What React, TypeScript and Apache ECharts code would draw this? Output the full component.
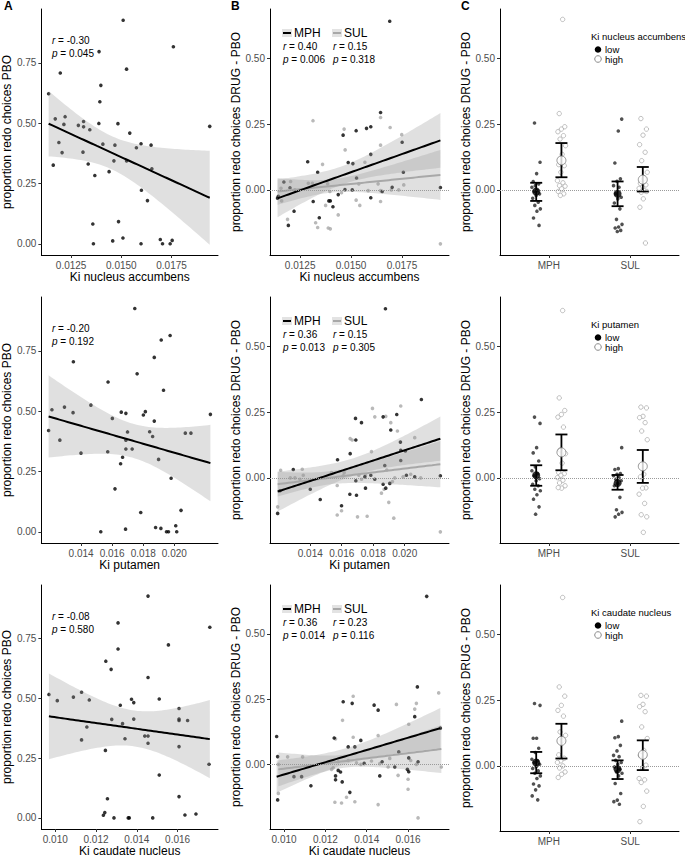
import React, { useEffect, useRef } from "react";
import * as echarts from "echarts";

const FONT = '"Liberation Sans", Arial, Helvetica, sans-serif';

// ---------- Panel A: proportion redo choices PBO vs Ki ----------
const accA_ki = [0.01509,0.01759,0.01389,0.01526,0.01196,0.01398,0.01138,0.01393,0.01171,0.0122,0.01214,0.01286,0.01312,0.01312,0.01343,0.01388,0.01483,0.01542,0.0194,0.01408,0.01468,0.01598,0.01648,0.01575,0.01189,0.01205,0.01309,0.01161,0.01335,0.01463,0.01526,0.01652,0.01439,0.01368,0.016,0.0163,0.01358,0.01486,0.01457,0.01508,0.01361,0.01598,0.01694,0.01705,0.01743,0.01753];
const accA_pbo = [0.927,0.817,0.797,0.724,0.708,0.657,0.622,0.589,0.518,0.527,0.495,0.491,0.507,0.485,0.473,0.499,0.498,0.459,0.487,0.413,0.409,0.415,0.409,0.398,0.42,0.378,0.38,0.326,0.331,0.344,0.344,0.311,0.299,0.283,0.222,0.179,0.082,0.092,0.012,0.024,0,0,0.018,0,0,0.014];

const putA_ki = [0.017457,0.01973,0.019157,0.01871,0.013505,0.017606,0.015736,0.019305,0.014631,0.012124,0.012931,0.013484,0.016586,0.016883,0.018137,0.018009,0.022322,0.01871,0.016012,0.011911,0.016989,0.018413,0.018604,0.020708,0.021069,0.012634,0.016883,0.013994,0.015715,0.016883,0.017287,0.016671,0.018987,0.016543,0.019794,0.016182,0.017839,0.020432,0.016862,0.018795,0.019136,0.020092,0.015268,0.019497,0.019624,0.020155];
const putA_pbo = [0.926,0.814,0.795,0.723,0.705,0.655,0.621,0.587,0.525,0.506,0.517,0.494,0.496,0.491,0.498,0.484,0.487,0.459,0.47,0.42,0.414,0.415,0.395,0.409,0.409,0.38,0.38,0.326,0.332,0.343,0.343,0.309,0.3,0.282,0.222,0.178,0.08,0.089,0.011,0.018,0.014,0.025,0,0,0,0];

const cauA_ki = [0.00969,0.0101,0.01089,0.01129,0.01167,0.01129,0.01155,0.01248,0.01274,0.01308,0.01308,0.01246,0.01277,0.01319,0.0133,0.01342,0.01374,0.01385,0.01385,0.01439,0.01455,0.01455,0.01455,0.01455,0.0151,0.0151,0.01555,0.01607,0.01607,0.01607,0.01649,0.01607,0.01607,0.01758,0.01754,0.01256,0.01236,0.01243,0.01288,0.01358,0.01363,0.01478,0.01636,0.0169];
const cauA_pbo = [0.516,0.49,0.505,0.525,0.493,0.326,0.38,0.655,0.621,0.815,0.706,0.282,0.412,0.471,0.394,0.331,0.496,0.482,0.413,0.342,0.342,0.312,0.927,0.587,0.497,0.179,0.723,0.457,0.413,0.407,0.407,0.298,0.089,0.797,0.224,0.08,0.011,0.022,0,0,0,0,0.012,0.016];

// ---------- Panel B: DRUG - PBO vs Ki ----------
const accB_mph_ki = [0.0169,0.01645,0.01597,0.01576,0.01525,0.01461,0.01597,0.01751,0.01287,0.01486,0.01509,0.01336,0.01757,0.01527,0.01702,0.01939,0.0117,0.012,0.01143,0.01139,0.01506,0.0147,0.01437,0.01314,0.01391,0.01398,0.01411,0.01597,0.01344,0.0122,0.01192,0.01653];
const accB_mph_d = [0.641,0.294,0.24,0.234,0.225,0.208,0.135,0.181,0.107,0.104,0.1,0.067,0.067,0.045,0.01,0.009,0.03,0.008,-0.024,-0.032,0,0.001,-0.018,-0.044,-0.042,-0.042,-0.064,-0.03,-0.106,-0.081,-0.135,-0.006];
const accB_sul_ki = [0.01313,0.01692,0.01466,0.01645,0.01749,0.01471,0.01645,0.01568,0.0136,0.0129,0.0131,0.01203,0.01156,0.01224,0.01385,0.01396,0.01453,0.01538,0.01645,0.01645,0.01633,0.01698,0.01759,0.01734,0.01525,0.01543,0.01375,0.01326,0.01336,0.01388,0.01398,0.01437,0.01188,0.01159,0.01939,0.01584,0.01139];
const accB_sul_d = [0.263,0.237,0.231,0.275,0.21,0.152,0.17,0.105,0.097,0.025,0.025,0.032,0.006,0,0.023,-0.006,-0.011,0.023,-0.003,-0.044,0.023,0,0.019,0,-0.039,-0.059,-0.059,-0.125,-0.143,-0.145,-0.148,-0.095,-0.112,-0.042,-0.205,-0.003,-0.028];

const putB_mph_ki = [0.018775,0.021057,0.016874,0.019494,0.018628,0.017254,0.019114,0.019726,0.016895,0.015733,0.016536,0.018733,0.019747,0.020043,0.019747,0.012923,0.022262,0.020107,0.020634,0.017465,0.017846,0.018099,0.018628,0.018797,0.01905,0.017508,0.014001,0.016515,0.016937,0.016895,0.014634,0.015987,0.01193,0.012078];
const putB_mph_d = [0.643,0.298,0.226,0.241,0.232,0.21,0.182,0.136,0.144,0.069,0.092,0.047,0.105,0.102,0.066,0.032,0.008,0.01,0.004,0.004,0.01,-0.005,-0.024,-0.039,-0.021,-0.039,-0.043,-0.062,-0.066,-0.011,-0.082,-0.106,-0.135,-0.049];
const putB_sul_ki = [0.017951,0.018099,0.018797,0.019747,0.019114,0.019536,0.020634,0.017888,0.016663,0.016536,0.01886,0.01212,0.013493,0.013557,0.012733,0.013029,0.015353,0.016155,0.017085,0.017254,0.019367,0.019895,0.020381,0.021015,0.015712,0.018691,0.018522,0.01922,0.016092,0.017508,0.018987,0.015712,0.015987,0.017001,0.017613,0.019304,0.022262,0.01193,0.013346];
const putB_sul_d = [0.264,0.232,0.234,0.273,0.21,0.178,0.153,0.1,0.144,0.149,0.03,0.029,0.033,0.01,0,0,0.02,0.02,0.01,-0.005,0,0.004,0.014,0,-0.029,-0.043,-0.058,-0.014,0.008,0.01,-0.093,-0.141,-0.125,-0.148,-0.146,-0.153,-0.205,-0.11,-0.005];

const cauB_mph_ki = [0.016902,0.016451,0.012861,0.013296,0.014358,0.014552,0.016323,0.017562,0.009641,0.012426,0.013714,0.013103,0.013425,0.01555,0.009689,0.016033,0.016484,0.014745,0.013875,0.012619,0.012732,0.012491,0.014632,0.015968,0.016033,0.010478,0.010849,0.012491,0.012813,0.011299,0.013183,0.009689,0.015357];
const cauB_mph_d = [0.644,0.297,0.24,0.234,0.227,0.208,0.183,0.139,0.107,0.101,0.092,0.067,0.067,0.048,0.03,0.025,0.01,0.01,0.004,-0.023,-0.029,-0.044,-0.044,-0.019,-0.028,-0.047,-0.047,-0.059,-0.067,-0.082,-0.107,-0.136,-0.01];
const cauB_sul_ki = [0.017482,0.013344,0.016403,0.015437,0.016323,0.012829,0.016033,0.014552,0.013344,0.012491,0.010172,0.010897,0.009722,0.012619,0.013103,0.013714,0.01423,0.014632,0.015115,0.016129,0.016403,0.015037,0.012378,0.012298,0.015518,0.016001,0.016001,0.013505,0.017611,0.009722,0.013022,0.012459,0.012781,0.013425,0.014552,0.016484];
const cauB_sul_d = [0.274,0.261,0.234,0.23,0.212,0.169,0.154,0.111,0.104,0.098,0.029,0.029,0,0.01,0.015,0,0.013,0.003,0.023,0.015,0,-0.01,-0.013,-0.019,-0.042,-0.057,-0.095,0.006,-0.01,-0.111,-0.126,-0.145,-0.148,-0.143,-0.154,-0.205];

// fitted lines: value at min Ki, value at max Ki
const accB_fitMph = [-0.032, 0.188];
const accB_fitSul = [-0.006, 0.057];
const putB_fitMph = [-0.052, 0.149];
const putB_fitSul = [-0.024, 0.052];
const cauB_fitMph = [-0.047, 0.139];
const cauB_fitSul = [-0.019, 0.059];
// 95% CI half-widths: at min Ki, narrowest, at max Ki
const accB_ciMph = [0.072, 0.035, 0.104];
const accB_ciSul = [0.051, 0.025, 0.095];
const putB_ciMph = [0.076, 0.033, 0.084];
const putB_ciSul = [0.047, 0.025, 0.088];
const cauB_ciMph = [0.062, 0.03, 0.077];
const cauB_ciSul = [0.065, 0.025, 0.092];

// ---------- Panel C: DRUG - PBO by low/high Ki ----------
const accC_mphLow = [0.254,0.105,0.062,0.032,0.023,0.016,0.01,-0.003,-0.006,-0.015,-0.021,-0.032,-0.047,-0.059,-0.072,-0.081,-0.107,-0.135];
const accC_mphHigh = [0.648,0.29,0.24,0.231,0.221,0.206,0.193,0.168,0.135,0.096,0.092,0.067,0.035,0.027,0.016,0.014,0.004,-0.006,-0.015,-0.021];
const accC_sulLow = [0.269,0.224,0.102,0.042,0.033,0.016,0.01,-0.015,-0.028,-0.034,-0.05,-0.072,-0.112,-0.131,-0.141,-0.145,-0.154,-0.158];
const accC_sulHigh = [0.271,0.231,0.208,0.172,0.143,0.111,0.067,0.042,0.025,0.019,0.01,0.006,-0.003,-0.009,-0.006,-0.034,-0.066,-0.202];
const accC_mean = [-0.006, 0.112, -0.015, 0.039];
const accC_lo = [-0.042, 0.048, -0.062, -0.006];
const accC_hi = [0.027, 0.178, 0.032, 0.087];

const putC_mphLow = [0.231,0.207,0.115,0.095,0.064,0.042,0.027,0.016,0.008,-0.003,-0.011,-0.024,-0.03,-0.043,-0.049,-0.064,-0.081,-0.11,-0.138];
const putC_mphHigh = [0.636,0.304,0.256,0.241,0.231,0.193,0.106,0.092,0.056,0.02,0.016,0.01,0.001,-0.009,-0.019,-0.03,-0.039,-0.037];
const putC_sulLow = [0.115,0.035,0.032,0.016,0.014,0.008,0.001,-0.005,-0.011,-0.021,-0.03,-0.074,-0.121,-0.131,-0.138,-0.148];
const putC_sulHigh = [0.269,0.266,0.234,0.229,0.21,0.178,0.145,0.014,0.004,-0.038,-0.039,-0.062,-0.097,-0.14,-0.148,-0.207];
const putC_mean = [0.01, 0.097, -0.02, 0.044];
const putC_lo = [-0.03, 0.029, -0.045, -0.019];
const putC_hi = [0.048, 0.165, 0.011, 0.106];

const cauC_mphLow = [0.237,0.23,0.105,0.105,0.067,0.051,0.025,0.019,0.013,0.006,-0.003,-0.01,-0.019,-0.028,-0.038,-0.048,-0.069,-0.076,-0.091,-0.114,-0.129];
const cauC_mphHigh = [0.64,0.3,0.265,0.23,0.211,0.189,0.129,0.116,0.096,0.042,0.029,0.019,0.013,0,-0.008,-0.023,-0.032,-0.044];
const cauC_sulLow = [0.17,0.111,0.107,0.078,0.057,0.04,0.035,0.021,0.013,0.006,-0.004,-0.013,-0.023,-0.028,-0.038,-0.067,-0.105,-0.13,-0.136,-0.146];
const cauC_sulHigh = [0.268,0.265,0.234,0.225,0.206,0.148,0.104,0.059,0.04,0.003,-0.008,-0.048,-0.053,-0.063,-0.096,-0.154,-0.212];
const cauC_mean = [0.013, 0.095, -0.013, 0.042];
const cauC_lo = [-0.028, 0.028, -0.05, -0.016];
const cauC_hi = [0.053, 0.16, 0.021, 0.097];

// ---------- labels / ticks ----------
const regionNames = ["Ki nucleus accumbens", "Ki putamen", "Ki caudate nucleus"];
const xTicks = [[0.0125, 0.015, 0.0175], [0.014, 0.016, 0.018, 0.02], [0.01, 0.012, 0.014, 0.016]];
const xDecimals = [4, 3, 3];
const xRanges = [[0.011018, 0.019812], [0.011444, 0.022811], [0.009319, 0.017981]];
const yTicksA = [0, 0.25, 0.5, 0.75];
const yTicksB = [0, 0.25, 0.5];
const yRangeA = [-0.0465, 0.9735];
const yRangeB = [-0.2475, 0.6875];
const drugs = ["MPH", "SUL"];
const statsA = [["-0.30", "0.045"], ["-0.20", "0.192"], ["-0.08", "0.580"]];
const statsB = [
  [["0.40", "0.006"], ["0.15", "0.318"]],
  [["0.36", "0.013"], ["0.15", "0.305"]],
  [["0.36", "0.014"], ["0.23", "0.116"]],
];

const rowsA = [[accA_ki, accA_pbo], [putA_ki, putA_pbo], [cauA_ki, cauA_pbo]];
const rowsB = [
  [accB_mph_ki, accB_mph_d, accB_sul_ki, accB_sul_d],
  [putB_mph_ki, putB_mph_d, putB_sul_ki, putB_sul_d],
  [cauB_mph_ki, cauB_mph_d, cauB_sul_ki, cauB_sul_d],
];
const fitsB = [
  [accB_fitMph, accB_ciMph, accB_fitSul, accB_ciSul],
  [putB_fitMph, putB_ciMph, putB_fitSul, putB_ciSul],
  [cauB_fitMph, cauB_ciMph, cauB_fitSul, cauB_ciSul],
];
const rowsC = [
  [accC_mphLow, accC_mphHigh, accC_sulLow, accC_sulHigh, accC_mean, accC_lo, accC_hi],
  [putC_mphLow, putC_mphHigh, putC_sulLow, putC_sulHigh, putC_mean, putC_lo, putC_hi],
  [cauC_mphLow, cauC_mphHigh, cauC_sulLow, cauC_sulHigh, cauC_mean, cauC_lo, cauC_hi],
];

// ---------- layout ----------
const ROW_TOP = [9, 297, 585];
const COL_LEFT = [40, 270, 500];
const COL_W = [178, 179, 179];
const PANEL_H = 246;
const DODGE = 0.155;

// ordinary least squares fit with 95% confidence band (as geom_smooth(method = "lm"))
function lmBand(xs: number[], ys: number[]) {
  const n = xs.length;
  const xbar = xs.reduce((s, v) => s + v, 0) / n;
  const ybar = ys.reduce((s, v) => s + v, 0) / n;
  let sxx = 0, sxy = 0;
  for (let i = 0; i < n; i++) {
    sxx += (xs[i] - xbar) ** 2;
    sxy += (xs[i] - xbar) * (ys[i] - ybar);
  }
  const b = sxy / sxx;
  const a = ybar - b * xbar;
  let sse = 0;
  for (let i = 0; i < n; i++) sse += (ys[i] - a - b * xs[i]) ** 2;
  const df = n - 2;
  const s = Math.sqrt(sse / df);
  const t = 1.96 + 2.4 / df;
  const lo = Math.min(...xs), hi = Math.max(...xs);
  const out: number[][] = [];
  for (let k = 0; k <= 60; k++) {
    const x = lo + ((hi - lo) * k) / 60;
    const f = a + b * x;
    const se = s * Math.sqrt(1 / n + (x - xbar) ** 2 / sxx);
    out.push([x, f, f - t * se, f + t * se]);
  }
  return out;
}

// regression line + hyperbolic CI from values
function readBand(xs: number[], ends: number[], hw: number[]) {
  const x0 = Math.min(...xs), x1 = Math.max(...xs);
  const [hL, hm, hR] = hw;
  const q = Math.sqrt((hL * hL - hm * hm) / (hR * hR - hm * hm));
  const xc = (x0 + q * x1) / (1 + q);
  const k = (hL * hL - hm * hm) / ((xc - x0) ** 2);
  const out: number[][] = [];
  for (let j = 0; j <= 60; j++) {
    const x = x0 + ((x1 - x0) * j) / 60;
    const f = ends[0] + ((ends[1] - ends[0]) * (x - x0)) / (x1 - x0);
    const h = Math.sqrt(hm * hm + k * (x - xc) ** 2);
    out.push([x, f, f - h, f + h]);
  }
  return out;
}

const jit = (i: number) => ((((i * 0.6180339887 + 0.31) % 1) - 0.5) * 0.11);

function bandSeries(idx: number, pts: number[][], fill: string, z: number) {
  return {
    type: "custom",
    xAxisIndex: idx,
    yAxisIndex: idx,
    z,
    silent: true,
    data: [[pts[0][0], pts[0][1]]],
    renderItem: (_p: any, api: any) => {
      const up = pts.map((p) => api.coord([p[0], p[3]]));
      const dn = pts.map((p) => api.coord([p[0], p[2]])).reverse();
      return { type: "polygon", shape: { points: up.concat(dn) }, style: { fill } };
    },
  };
}

function lineSeries(idx: number, pts: number[][], color: string, z: number) {
  return {
    type: "line",
    xAxisIndex: idx,
    yAxisIndex: idx,
    z,
    silent: true,
    showSymbol: false,
    data: pts.map((p) => [p[0], p[1]]),
    lineStyle: { color, width: 2 },
  };
}

const zeroLine = {
  silent: true,
  symbol: "none",
  label: { show: false },
  lineStyle: { type: "dotted", color: "#9a9a9a", width: 1 },
  data: [{ yAxis: 0 }],
};

function axisCommon(ticks: number[], fmt: (v: number) => string) {
  return {
    axisLine: { show: true, onZero: false, lineStyle: { color: "#000", width: 1 } },
    axisTick: { show: true, length: 3, customValues: ticks, lineStyle: { color: "#333", width: 1 } },
    axisLabel: { customValues: ticks, formatter: fmt, color: "#4D4D4D", fontSize: 10, fontFamily: FONT, margin: 5 },
    splitLine: { show: false },
    nameLocation: "middle",
    nameTextStyle: { color: "#000", fontSize: 12, fontFamily: FONT },
  };
}

function buildOption() {
  const grid: any[] = [];
  const xAxis: any[] = [];
  const yAxis: any[] = [];
  const series: any[] = [];
  const graphic: any[] = [];

  for (let r = 0; r < 3; r++) {
    for (let c = 0; c < 3; c++) {
      const idx = r * 3 + c;
      grid.push({ left: COL_LEFT[c], top: ROW_TOP[r], width: COL_W[c], height: PANEL_H, containLabel: false });
      if (c < 2) {
        xAxis.push({
          type: "value", gridIndex: idx, min: xRanges[r][0], max: xRanges[r][1],
          ...axisCommon(xTicks[r], (v: number) => v.toFixed(xDecimals[r])),
          name: regionNames[r], nameGap: 16,
        });
      } else {
        xAxis.push({
          type: "value", gridIndex: idx, min: 0.4, max: 2.6,
          ...axisCommon([1, 2], (v: number) => drugs[Math.round(v) - 1]),
        });
      }
      const yr = c === 0 ? yRangeA : yRangeB;
      yAxis.push({
        type: "value", gridIndex: idx, min: yr[0], max: yr[1],
        ...axisCommon(c === 0 ? yTicksA : yTicksB, (v: number) => v.toFixed(2)),
        name: c === 0 ? "proportion redo choices PBO" : "proportion redo choices DRUG - PBO",
        nameGap: 27,
      });
    }

    // ---- A ----
    const ia = r * 3;
    const [ax, ay] = rowsA[r];
    series.push({
      type: "scatter", xAxisIndex: ia, yAxisIndex: ia, z: 2, silent: true,
      symbolSize: 3.6, itemStyle: { color: "#000" },
      data: ax.map((x, i) => [x, ay[i]]),
    });
    const fa = lmBand(ax, ay);
    series.push(bandSeries(ia, fa, "rgba(153,153,153,0.3)", 3));
    series.push(lineSeries(ia, fa, "#000", 4));

    // ---- B ----
    const ib = r * 3 + 1;
    const [mx, my, sx, sy] = rowsB[r];
    const [fitM, ciM, fitS, ciS] = fitsB[r];
    series.push({
      type: "scatter", xAxisIndex: ib, yAxisIndex: ib, z: 2, silent: true,
      symbolSize: 3.6, itemStyle: { color: "#A8A8A8" },
      data: sx.map((x, i) => [x, sy[i]]),
      markLine: zeroLine,
    });
    series.push({
      type: "scatter", xAxisIndex: ib, yAxisIndex: ib, z: 2, silent: true,
      symbolSize: 3.6, itemStyle: { color: "#000" },
      data: mx.map((x, i) => [x, my[i]]),
    });
    const fs = readBand(sx, fitS, ciS);
    const fm = readBand(mx, fitM, ciM);
    series.push(bandSeries(ib, fs, "rgba(153,153,153,0.3)", 3));
    series.push(bandSeries(ib, fm, "rgba(153,153,153,0.3)", 3));
    series.push(lineSeries(ib, fs, "#A8A8A8", 4));
    series.push(lineSeries(ib, fm, "#000", 4));

    // ---- C ----
    const ic = r * 3 + 2;
    const [mLow, mHigh, sLow, sHigh, means, los, his] = rowsC[r] as number[][];
    const groups = [mLow, mHigh, sLow, sHigh];
    const pos = [1 - DODGE, 1 + DODGE, 2 - DODGE, 2 + DODGE];
    groups.forEach((g, gi) => {
      const high = gi % 2 === 1;
      series.push({
        type: "scatter", xAxisIndex: ic, yAxisIndex: ic, z: 2, silent: true,
        symbolSize: high ? 4.4 : 3.6,
        itemStyle: high
          ? { color: "#fff", borderColor: "#A6A6A6", borderWidth: 0.9 }
          : { color: "#333", opacity: 0.85 },
        data: g.map((v, i) => [pos[gi] + jit(i + gi * 7), v]),
        ...(gi === 0 ? { markLine: zeroLine } : {}),
      });
    });
    series.push({
      type: "custom", xAxisIndex: ic, yAxisIndex: ic, z: 4, silent: true,
      data: pos.map((p, i) => [p, los[i], his[i]]),
      renderItem: (_p: any, api: any) => {
        const top = api.coord([api.value(0), api.value(2)]);
        const bot = api.coord([api.value(0), api.value(1)]);
        const w = 6;
        const st = { stroke: "#000", lineWidth: 1.8 };
        return {
          type: "group",
          children: [
            { type: "line", shape: { x1: top[0], y1: top[1], x2: bot[0], y2: bot[1] }, style: st },
            { type: "line", shape: { x1: top[0] - w, y1: top[1], x2: top[0] + w, y2: top[1] }, style: st },
            { type: "line", shape: { x1: bot[0] - w, y1: bot[1], x2: bot[0] + w, y2: bot[1] }, style: st },
          ],
        };
      },
    });
    series.push({
      type: "scatter", xAxisIndex: ic, yAxisIndex: ic, z: 5, silent: true,
      symbolSize: 8, itemStyle: { color: "#000" },
      data: [[pos[0], means[0]], [pos[2], means[2]]],
    });
    series.push({
      type: "scatter", xAxisIndex: ic, yAxisIndex: ic, z: 5, silent: true,
      symbolSize: 9, itemStyle: { color: "#fff", borderColor: "#7a7a7a", borderWidth: 1 },
      data: [[pos[1], means[1]], [pos[3], means[3]]],
    });

    // ---- annotations ----
    const top = ROW_TOP[r];
    const rich = { i: { fontStyle: "italic", fontSize: 10, fontFamily: FONT, fill: "#000" } };
    const txt = (x: number, y: number, text: string, size = 10, extra: any = {}) => ({
      type: "text", x, y, silent: true,
      style: { text, fontSize: size, fontFamily: FONT, fill: "#000", verticalAlign: "middle", rich, ...extra },
    });
    graphic.push(txt(52, top + 31.5, `{i|r} = ${statsA[r][0]}`));
    graphic.push(txt(52, top + 44, `{i|p} = ${statsA[r][1]}`));

    // B legend + stats
    const bx = [283, 333];
    const keyColor = ["#000", "#A8A8A8"];
    drugs.forEach((d, k) => {
      const kx = bx[k] - 1;
      graphic.push({ type: "rect", silent: true, shape: { x: kx, y: top + 20, width: 10, height: 8 }, style: { fill: "#E3E3E3" } });
      graphic.push({ type: "line", silent: true, shape: { x1: kx + 1, y1: top + 24, x2: kx + 9, y2: top + 24 }, style: { stroke: keyColor[k], lineWidth: 2 } });
      graphic.push(txt(kx + 12, top + 24, d, 12));
      graphic.push(txt(bx[k], top + 37, `{i|r} = ${statsB[r][k][0]}`));
      graphic.push(txt(bx[k], top + 50, `{i|p} = ${statsB[r][k][1]}`));
    });

    // C legend
    graphic.push(txt(591, top + 27.5, regionNames[r], 9.5, { lineHeight: 10 }));
    graphic.push({ type: "circle", silent: true, shape: { cx: 598, cy: top + 40.5, r: 3.3 }, style: { fill: "#000" } });
    graphic.push({ type: "circle", silent: true, shape: { cx: 598, cy: top + 50, r: 3.3 }, style: { fill: "#fff", stroke: "#8a8a8a", lineWidth: 1 } });
    graphic.push(txt(605, top + 40.5, "low", 9.5, { lineHeight: 9 }));
    graphic.push(txt(605, top + 50, "high", 9.5, { lineHeight: 9 }));
  }

  ["A", "B", "C"].forEach((l, k) => {
    graphic.push({
      type: "text", x: [4, 231, 461][k], y: 0, silent: true,
      style: { text: l, fontSize: 12, fontWeight: "bold", fontFamily: FONT, fill: "#000" },
    });
  });

  return { animation: false, backgroundColor: "#fff", grid, xAxis, yAxis, series, graphic };
}

export default function App() {
  const ref = useRef<HTMLDivElement>(null);
  useEffect(() => {
    if (!ref.current) return;
    const chart = echarts.init(ref.current, undefined, { renderer: "svg" });
    chart.setOption(buildOption() as any);
    return () => chart.dispose();
  }, []);
  return <div ref={ref} style={{ position: "absolute", left: 0, top: 0, width: 685, height: 858 }} />;
}
